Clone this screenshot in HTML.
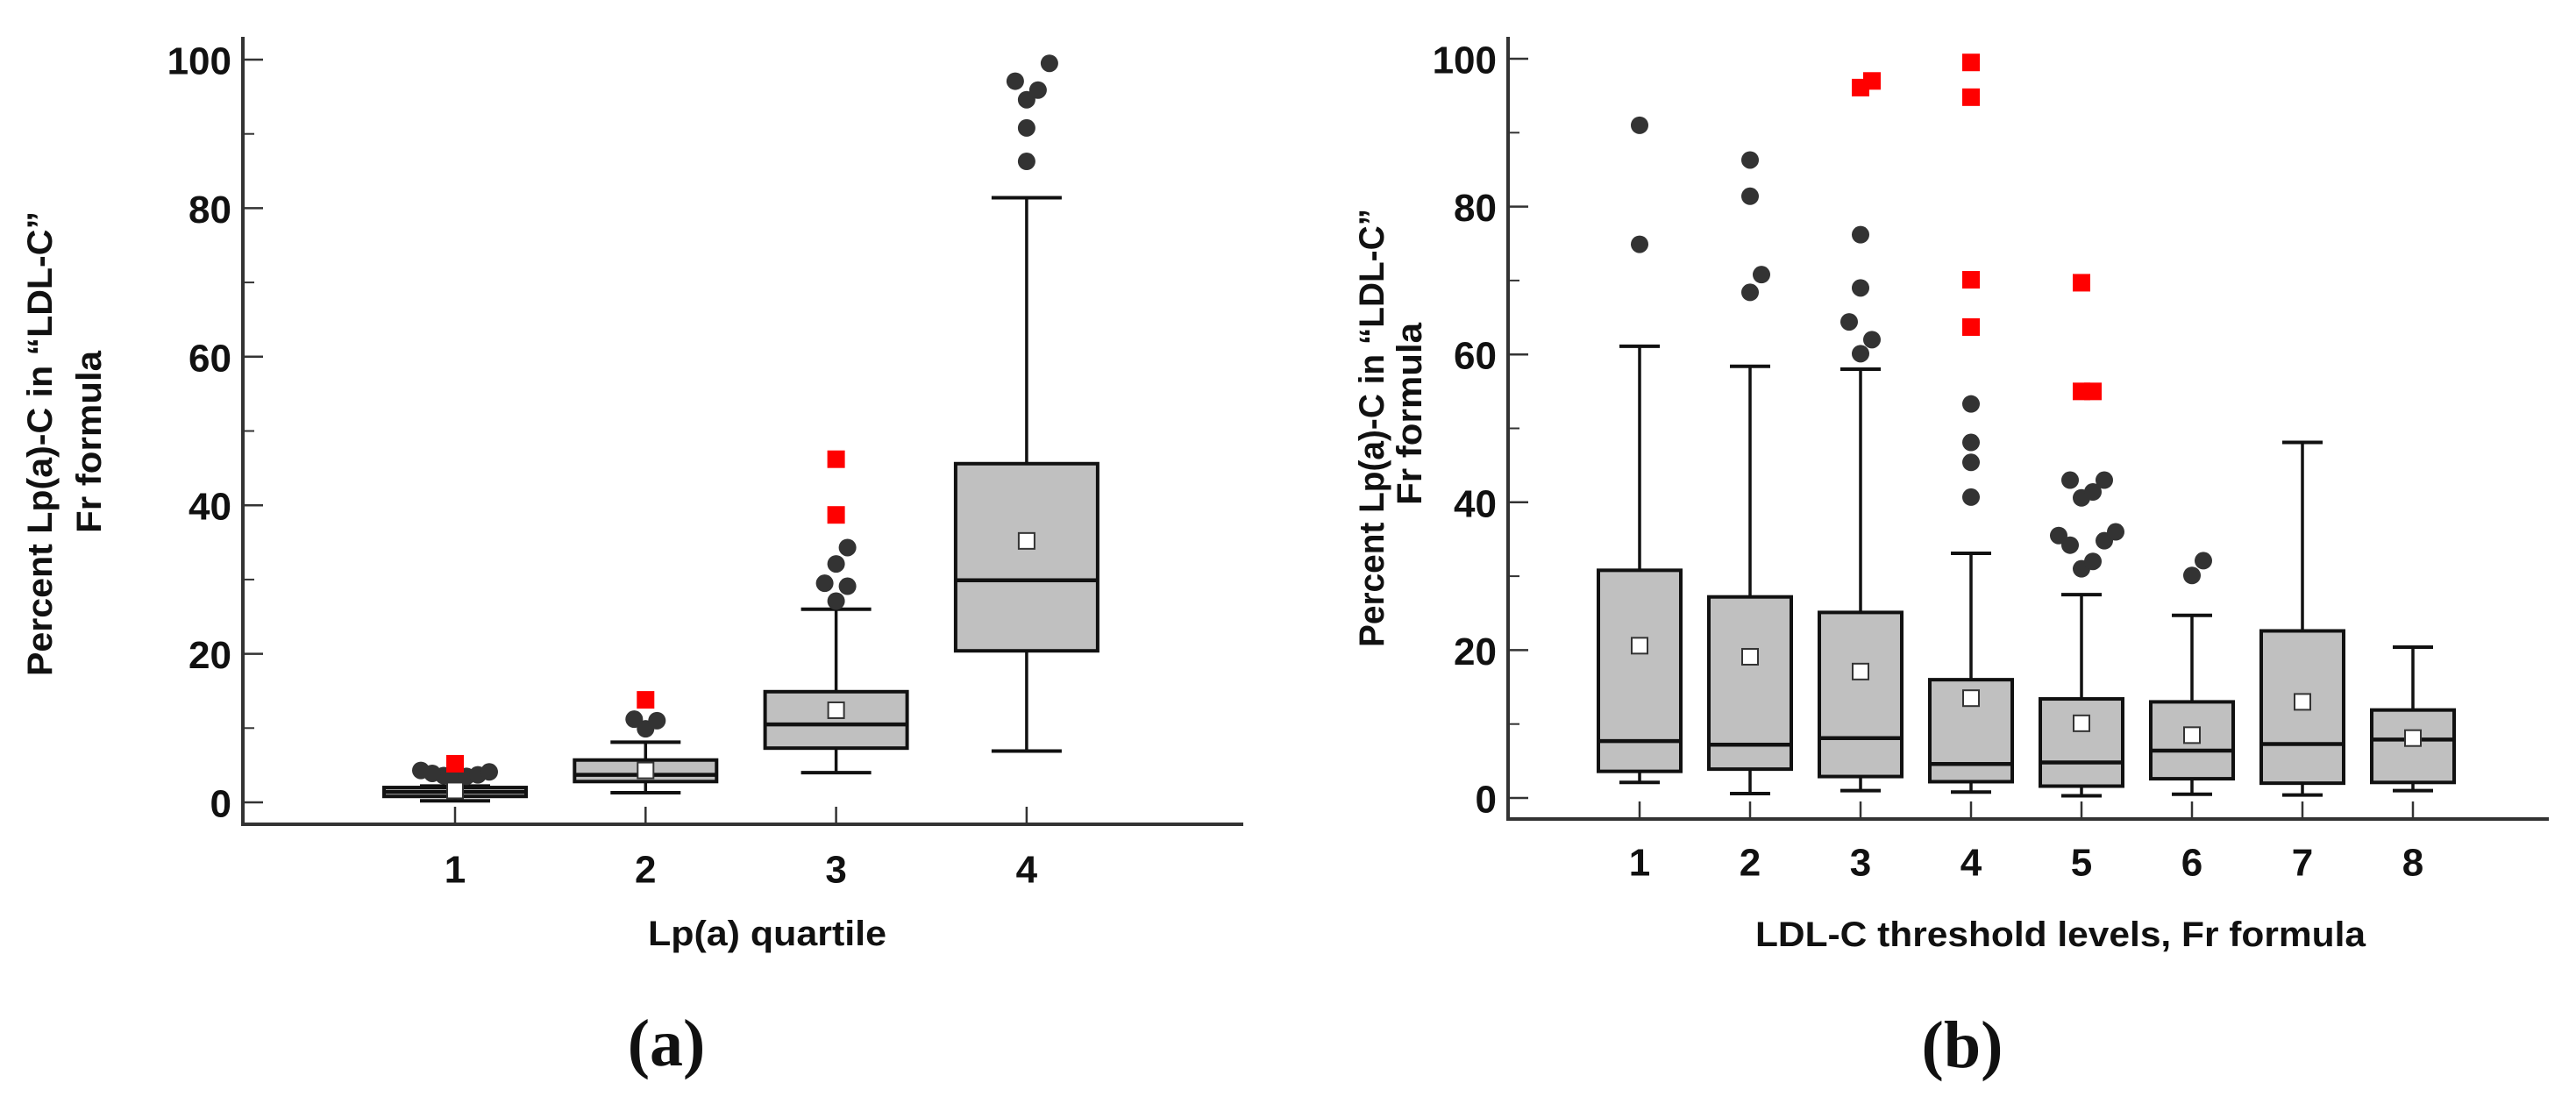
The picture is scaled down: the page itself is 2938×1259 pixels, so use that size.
<!DOCTYPE html>
<html><head><meta charset="utf-8"><style>
html,body{margin:0;padding:0;background:#fff;}
svg{display:block;}
text{font-family:"Liberation Sans",Arial,sans-serif;font-weight:bold;fill:#111;}
.cap{font-family:"Liberation Serif","Times New Roman",serif;font-weight:bold;}
</style></head><body>
<svg id="fig" width="2938" height="1259" viewBox="0 0 2938 1259" xmlns="http://www.w3.org/2000/svg">
<g id="chartA"></g>
<g id="chartB"></g>
<text x="46" y="506" transform="rotate(-90 46 506)" text-anchor="middle" dominant-baseline="central" font-size="40" textLength="530" lengthAdjust="spacingAndGlyphs">Percent Lp(a)-C in “LDL-C”</text>
<text x="102" y="504" transform="rotate(-90 102 504)" text-anchor="middle" dominant-baseline="central" font-size="40" textLength="208" lengthAdjust="spacingAndGlyphs">Fr formula</text>
<text x="875" y="1065" text-anchor="middle" dominant-baseline="central" font-size="40" textLength="272" lengthAdjust="spacingAndGlyphs">Lp(a) quartile</text>
<text x="760" y="1190" text-anchor="middle" dominant-baseline="central" font-size="76" class="cap">(a)</text>
<text x="1565" y="488" transform="rotate(-90 1565 488)" text-anchor="middle" dominant-baseline="central" font-size="40" textLength="500" lengthAdjust="spacingAndGlyphs">Percent Lp(a)-C in “LDL-C”</text>
<text x="1608" y="472" transform="rotate(-90 1608 472)" text-anchor="middle" dominant-baseline="central" font-size="40" textLength="208" lengthAdjust="spacingAndGlyphs">Fr formula</text>
<text x="2350" y="1066" text-anchor="middle" dominant-baseline="central" font-size="40" textLength="696" lengthAdjust="spacingAndGlyphs">LDL-C threshold levels, Fr formula</text>
<text x="2238" y="1192" text-anchor="middle" dominant-baseline="central" font-size="76" class="cap">(b)</text>
</svg>
<script>
// ---- Chart A data ----
const catsA = ["1","2","3","4"];
const q1A = [0.8, 2.8, 7.3, 20.4];
const medA = [1.4, 3.7, 10.5, 29.9];
const q3A = [2.0, 5.7, 14.9, 45.6];
const loA = [0.2, 1.3, 4.0, 6.9];
const hiA = [2.2, 8.1, 26.0, 81.4];
const meanA = [1.6, 4.3, 12.4, 35.2];
const outA = [[3.4,3.5,3.6,3.7,3.9,4.1,4.3],[9.9,11.0,11.2],[27.1,29.1,29.5,32.1,34.3],[86.3,90.8,94.6,95.9,97.1,99.5]];
const extA = [[5.2],[13.8],[38.7,46.2],[]];
// ---- Chart B data ----
const catsB = ["1","2","3","4","5","6","7","8"];
const q1B = [3.6, 3.9, 2.9, 2.2, 1.6, 2.6, 2.0, 2.1];
const medB = [7.7, 7.2, 8.1, 4.6, 4.8, 6.4, 7.3, 7.9];
const q3B = [30.8, 27.2, 25.1, 16.0, 13.4, 13.0, 22.6, 11.9];
const loB = [2.1, 0.6, 1.0, 0.8, 0.3, 0.5, 0.4, 1.0];
const hiB = [61.1, 58.4, 58.0, 33.1, 27.5, 24.7, 48.1, 20.4];
const meanB = [20.6, 19.1, 17.1, 13.5, 10.1, 8.5, 13.0, 8.1];
const outB = [[74.9,91.0],[68.4,70.8,81.4,86.3],[60.1,62.0,64.4,69.0,76.2],[40.7,45.4,48.1,53.3],[31.0,32.0,34.2,34.8,35.5,36.0,40.6,41.4,43.0,43.0],[30.1,32.1],[],[]];
const extB = [[],[],[96.1,97.0],[63.7,70.1,94.8,99.5],[55.0,55.0,69.7],[],[],[]];
const yTicks = [0,20,40,60,80,100];
const yMinor = [10,30,50,70,90];

const NS="http://www.w3.org/2000/svg";
function mk(parent,tag,attrs){const e=document.createElementNS(NS,tag);for(const k in attrs)e.setAttribute(k,attrs[k]);parent.appendChild(e);return e;}

function draw(g,cfg,cats,q1,med,q3,lo,hi,mean,out,ext){
  const y=v=>cfg.y0-v*cfg.k;
  const x=i=>cfg.x1+i*cfg.dx;
  let ax=mk(g,"line",{x1:cfg.ax,y1:42,x2:cfg.ax,y2:cfg.axY+2,stroke:"#333","stroke-width":4});
  
  
  let bx=mk(g,"line",{x1:cfg.ax-2,y1:cfg.axY,x2:cfg.xEnd,y2:cfg.axY,stroke:"#333","stroke-width":4});
  
  
  yTicks.forEach(t=>{
    let l=mk(g,"line",{x1:cfg.ax,y1:y(t),x2:cfg.ax+23,y2:y(t),stroke:"#333","stroke-width":2.5});
    
    
    let tx=mk(g,"text",{x:cfg.ax-13,y:y(t)+2,"text-anchor":"end","dominant-baseline":"central","font-size":44});
    tx.textContent=t;
    
    
  });
  yMinor.forEach(t=>{
    let l=mk(g,"line",{x1:cfg.ax,y1:y(t),x2:cfg.ax+13,y2:y(t),stroke:"#333","stroke-width":2});
    
    
  });
  cats.forEach((c,i)=>{
    const cx=x(i);
    let tk=mk(g,"line",{x1:cx,y1:cfg.axY,x2:cx,y2:cfg.axY-20,stroke:"#333","stroke-width":2.5});
    
    
    let tl=mk(g,"text",{x:cx,y:cfg.lblY,"text-anchor":"middle","dominant-baseline":"central","font-size":44});
    tl.textContent=c;
    
    
    let w=mk(g,"line",{x1:cx,y1:y(hi[i]),x2:cx,y2:y(lo[i]),stroke:"#111","stroke-width":3.5});
    
    
    [hi[i],lo[i]].forEach(v=>{
      let cp=mk(g,"line",{x1:cx-cfg.cap,y1:y(v),x2:cx+cfg.cap,y2:y(v),stroke:"#111","stroke-width":4});
      
      
    });
    let b=mk(g,"rect",{x:cx-cfg.bw,y:y(q3[i]),width:2*cfg.bw,height:Math.max(1,y(q1[i])-y(q3[i])),fill:"#c0c0c0",stroke:"#111","stroke-width":4});
    
    
    let m=mk(g,"line",{x1:cx-cfg.bw,y1:y(med[i]),x2:cx+cfg.bw,y2:y(med[i]),stroke:"#111","stroke-width":4.5});
    
    
    const place=(vals,cb)=>{
      const s=[...vals].sort((a,b)=>a-b);let cl=0,prev=-999;
      s.forEach(v=>{ if(v-prev<2.6) cl++; else cl=0; prev=v;
        const off=cl===0?0:(cl%2?1:-1)*Math.ceil(cl/2)*13; cb(v,cx+off);});
    };
    place(out[i],(v,px)=>{
      let d=mk(g,"circle",{cx:px,cy:y(v),r:10,fill:"#333"});
      
      
    });
    place(ext[i],(v,px)=>{
      let r=mk(g,"rect",{x:px-10,y:y(v)-10,width:20,height:20,fill:"#f00"});
      
      
    });
    let mn=mk(g,"rect",{x:cx-9,y:y(mean[i])-9,width:18,height:18,fill:"#fff",stroke:"#333","stroke-width":2});
    
    
  });
}
draw(document.getElementById("chartA"),{ax:277,axY:940,xEnd:1418,y0:915,k:8.47,x1:519,dx:217.3,bw:81,cap:40,lblY:992},catsA,q1A,medA,q3A,loA,hiA,meanA,outA,extA);
draw(document.getElementById("chartB"),{ax:1720,axY:934,xEnd:2907,y0:910,k:8.43,x1:1870,dx:126,bw:47,cap:23,lblY:984},catsB,q1B,medB,q3B,loB,hiB,meanB,outB,extB);
</script>
</body></html>
